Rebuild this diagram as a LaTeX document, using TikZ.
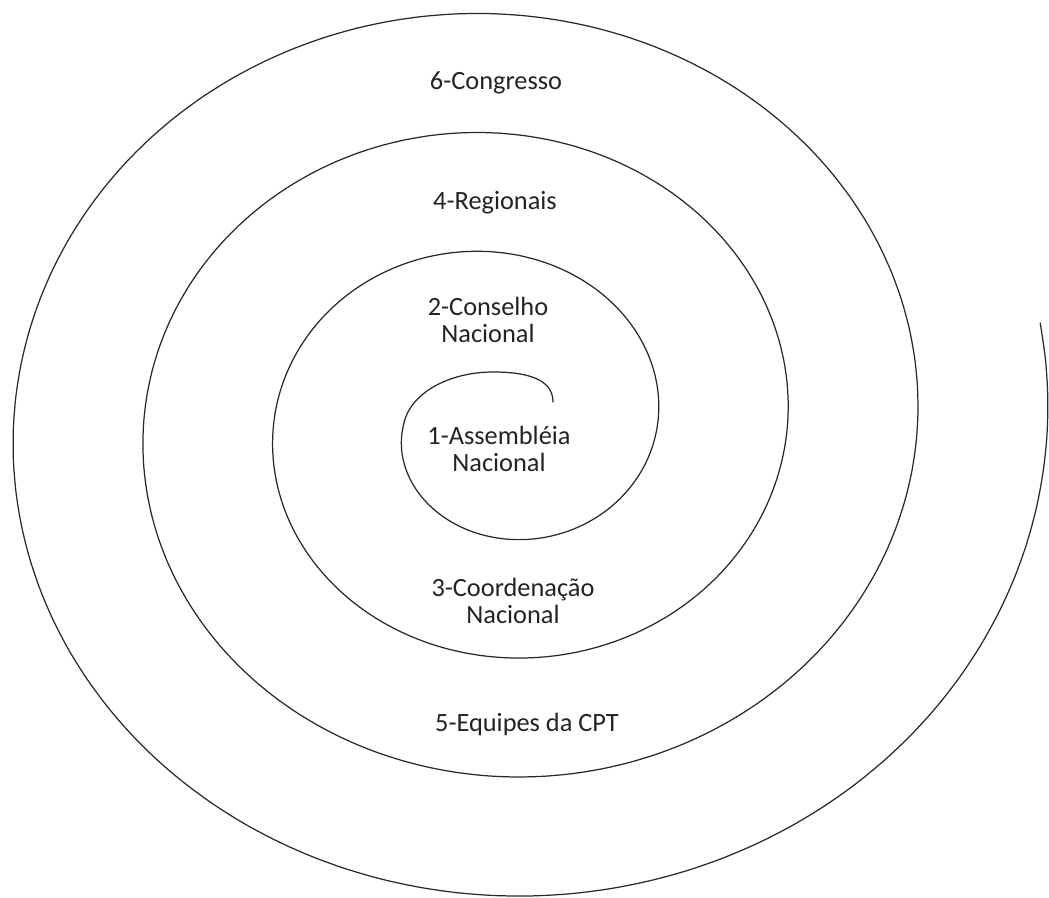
\documentclass[tikz,border=0pt]{standalone}
\usepackage{fontspec}
\setmainfont{Carlito}
\usepackage{xcolor}
\usepackage{tikz}
\definecolor{spiralcolor}{RGB}{40, 40, 40}
\definecolor{labelcolor}{RGB}{35, 35, 35}

\tikzset{
    spiralline/.style={draw=spiralcolor, line width=0.7pt, line cap=round},
    levellabel/.style={text=labelcolor, align=center, inner sep=1pt,
        font=\fontsize{15pt}{15.5pt}\selectfont}
}

\begin{document}
\begin{tikzpicture}[x=0.02cm, y=-0.02cm]
        \useasboundingbox (0,0) rectangle (1049,898);

        % Spiral (inner hook, then the turns outwards)
        \draw[spiralline] (553,402) .. controls (553,379) and (527,372) .. (493,372)
            .. controls (448,372) and (409,394) .. (403.5,425)
            -- plot[domain=1:15.13, samples=300, smooth, variable=\k]
            ({498 + (62 + 32.5*\k)*cos(270 - 90*\k)}, {425 + (53.5 + 29.8*\k)*sin(270 - 90*\k)});

        % Levels
        \node[levellabel] (assembleia) at (499,449) {1-Assembléia\\Nacional};
        \node[levellabel] (conselho) at (488,320) {2-Conselho\\Nacional};
        \node[levellabel] (coordenacao) at (513,601) {3-Coordenação\\Nacional};
        \node[levellabel] (regionais) at (495,203) {4-Regionais};
        \node[levellabel] (equipes) at (527,724) {5-Equipes da CPT};
        \node[levellabel] (congresso) at (496,83) {6-Congresso};
    \end{tikzpicture}
\end{document}
